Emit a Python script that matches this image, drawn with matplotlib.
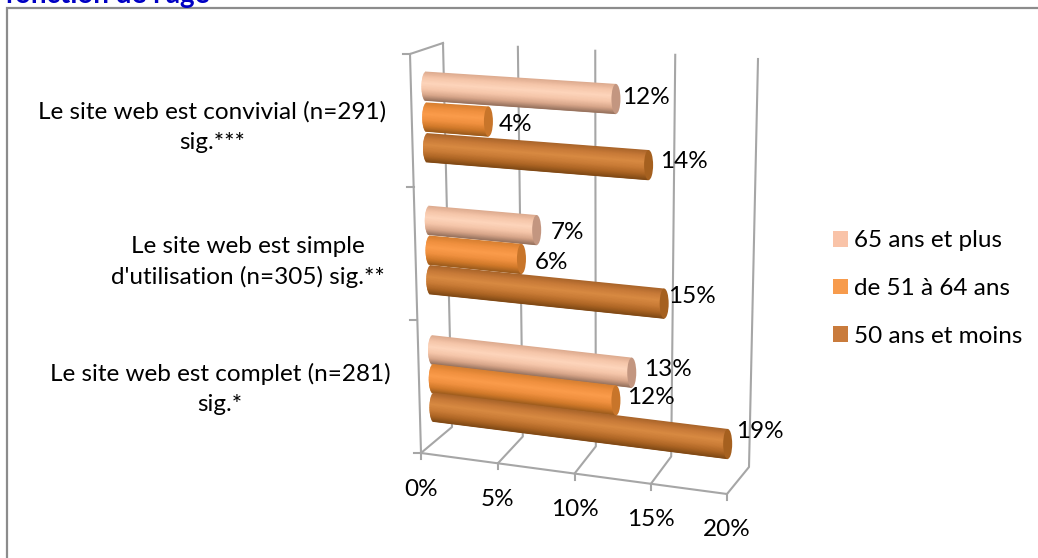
import numpy as np
import matplotlib
matplotlib.use("Agg")
from matplotlib import pyplot as plt
from matplotlib.colors import LinearSegmentedColormap
from matplotlib.patches import Ellipse, Patch, Polygon

plt.rcParams['font.family'] = ['Lato', 'DejaVu Sans']

# Data
categories = [
    "Le site web est convivial (n=291)\nsig.***",
    "Le site web est simple\nd'utilisation (n=305) sig.**",
    "Le site web est complet (n=281)\nsig.*",
]
series = ["65 ans et plus", "de 51 à 64 ans", "50 ans et moins"]
senior = [12, 7, 13]
middle = [4, 6, 12]
younger = [14, 15, 19]
value_ticks = [0, 5, 10, 15, 20]
title = "fonction de l'âge"

# Shading across each cylinder, top edge to bottom edge
shades = {
    "65 ans et plus": ["#dcaa8e", "#f6c6aa", "#fdd5bb", "#f6c6aa", "#d8a68a", "#94705c"],
    "de 51 à 64 ans": ["#d67f30", "#f0903f", "#fb9c4b", "#f0903f", "#d27a2a", "#9a5a1c"],
    "50 ans et moins": ["#a8642a", "#c87a38", "#d88a42", "#c97b36", "#ad6524", "#7e4815"],
}
cap_colors = {"65 ans et plus": "#c39680", "de 51 à 64 ans": "#c8752a", "50 ans et moins": "#a5601f"}
legend_colors = {"65 ans et plus": "#f9c3a8", "de 51 à 64 ans": "#f79b4c", "50 ans et moins": "#c97b3c"}
GRID = "#a6a6a6"
FONT = 17.5


def make_plane(corners):
    # homography from the unit square (u right, w down) to pixels
    src = [(0, 0), (1, 0), (0, 1), (1, 1)]
    rows, rhs = [], []
    for (u, w), (x, y) in zip(src, corners):
        rows.append([u, w, 1, 0, 0, 0, -u * x, -w * x])
        rows.append([0, 0, 0, u, w, 1, -u * y, -w * y])
        rhs += [x, y]
    h = np.append(np.linalg.solve(np.array(rows, float), np.array(rhs, float)), 1).reshape(3, 3)

    def project(u, w):
        x, y, z = h @ np.array([u, w, 1.0])
        return x / z, y / z
    return project


# The three planes of the 3D box, value axis running 0 to 20
back_wall = make_plane([(443, 43), (758, 59), (452, 427), (749, 467)])
floor = make_plane([(452, 427), (749, 467), (421, 453), (727, 494)])
bar_plane = make_plane([(426, 86), (750, 108), (434, 407), (744, 446)])
front_top, front_bottom = (410, 54), (421, 453)

fig = plt.figure(figsize=(10.38, 5.58), dpi=100)
ax = fig.add_axes([0, 0, 1, 1])
ax.set_xlim(0, 1038)
ax.set_ylim(558, 0)
ax.axis("off")

# Outer frame, open towards the right and bottom edges
ax.plot([7, 7, 1038], [558, 8, 8], color="#8c8c8c", lw=1.6, zorder=1, solid_joinstyle="miter")

ax.text(5, 3, title, color="#0000c4", fontsize=20, fontweight="bold", va="baseline", ha="left")

# Box outline and gridlines
for v in value_ticks:
    u = v / max(value_ticks)
    top = back_wall(u, 0)
    corner = back_wall(u, 1)
    front = floor(u, 1)
    ax.plot([top[0], corner[0], front[0]], [top[1], corner[1], front[1]], color=GRID, lw=1.5, zorder=2)
    ax.plot([front[0], front[0]], [front[1], front[1] + 6], color=GRID, lw=1.5, zorder=2)
    ax.text(front[0], front[1] + 36, f"{v}%", fontsize=FONT, color="black", ha="center", va="center")

ax.plot([floor(0, 1)[0], floor(1, 1)[0]], [floor(0, 1)[1], floor(1, 1)[1]], color=GRID, lw=1.5, zorder=2)
ax.plot([front_top[0], front_bottom[0]], [front_top[1], front_bottom[1]], color=GRID, lw=1.5, zorder=2)
ax.plot([front_top[0], back_wall(0, 0)[0]], [front_top[1], back_wall(0, 0)[1]], color=GRID, lw=1.5, zorder=2)

# Category ticks on the front left edge, and their labels
n_cat = len(categories)
for i in range(n_cat + 1):
    t = i / n_cat
    x = front_top[0] + t * (front_bottom[0] - front_top[0])
    y = front_top[1] + t * (front_bottom[1] - front_top[1])
    ax.plot([x - 7, x], [y, y], color=GRID, lw=1.5, zorder=2)

label_x = [212, 248, 220]
label_y = [127, 262, 389]
for name, x, y in zip(categories, label_x, label_y):
    ax.text(x, y, name, fontsize=FONT, ha="center", va="center", linespacing=1.5)

# Cylinders
GAP = 2.4
HALF_START = 14.5
HALF_END = 15.0
CAP = 4.5
values = [senior, middle, younger]
n_rows = 3 * n_cat + (n_cat - 1) * (GAP - 1) - 1
strips = np.linspace(-1, 1, 41)
# nudges for the value labels, so they clear the neighbouring bars
label_dx = [[6, 10, 11], [14, 13, 4], [12, 11, 8]]
label_dy = [[-1, 3, -4], [2, 4, -7], [-3, -3, -12]]

for c in range(n_cat):
    for s, name in enumerate(series):
        v = values[s][c]
        w = (c * (2 + GAP) + s) / n_rows
        x0, y0 = bar_plane(0, w)
        x1, y1 = bar_plane(v / max(value_ticks), w)
        cmap = LinearSegmentedColormap.from_list(name, shades[name])
        z = 5 + s
        for a, b in zip(strips[:-1], strips[1:]):
            m = (a + b) / 2
            bulge = CAP * np.sqrt(max(1 - m * m, 0))
            # each strip runs under the next one so no seams show
            under = 1.0 if b < 1 else 0
            poly = [
                (x0 - bulge, y0 + a * HALF_START),
                (x1, y1 + a * HALF_END),
                (x1, y1 + b * HALF_END + under),
                (x0 - bulge, y0 + b * HALF_START + under),
            ]
            ax.add_patch(Polygon(poly, closed=True, facecolor=cmap((m + 1) / 2), edgecolor="none", zorder=z))
        ax.add_patch(Ellipse((x1, y1), CAP * 2, HALF_END * 2, facecolor=cap_colors[name],
                             edgecolor="none", zorder=z))
        ax.text(x1 + label_dx[c][s], y1 + label_dy[c][s], f"{v}%", fontsize=FONT, va="center", ha="left", zorder=10)

handles = [Patch(facecolor=legend_colors[name], edgecolor="none", label=name) for name in series]
ax.legend(handles=handles, loc="center left", bbox_to_anchor=(833 / 1038, 1 - 288.5 / 558), frameon=False,
          fontsize=FONT, handlelength=0.62, handleheight=0.62, handletextpad=0.26, labelspacing=1.1,
          borderpad=0, borderaxespad=0)

fig.savefig("out.png", dpi=100)
